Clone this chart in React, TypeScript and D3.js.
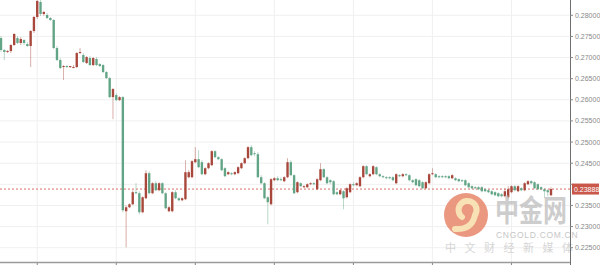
import React from 'react';
import * as d3 from 'd3';

const opens = [
  0.27462,0.27178,0.27131,0.27154,0.27297,0.27462,0.27344,0.27415,0.27320,0.27273,
  0.27628,0.27960,0.28316,0.28031,0.28008,0.27936,0.27889,0.27225,0.26941,0.26775,
  0.26799,0.26775,0.26775,0.26775,0.27107,0.27060,0.26870,0.26988,0.26822,0.26965,
  0.26846,0.26822,0.26657,0.26514,0.26064,0.26112,0.25993,0.26064,0.23363,0.23457,
  0.23528,0.23813,0.23789,0.23339,0.23670,0.24263,0.23789,0.24026,0.23860,0.24026,
  0.23789,0.23363,0.23363,0.23813,0.23670,0.23623,0.23647,0.24168,0.24168,0.24524,
  0.24595,0.24524,0.24239,0.24381,0.24453,0.24784,0.24642,0.24595,0.24381,0.24239,
  0.24263,0.24239,0.24263,0.24381,0.24500,0.24618,0.24879,0.24737,0.24713,0.24168,
  0.24026,0.23694,0.23528,0.24097,0.24144,0.24121,0.24073,0.24168,0.24524,0.24216,
  0.23813,0.24026,0.23931,0.23931,0.24002,0.24026,0.23884,0.24097,0.24358,0.24168,
  0.24097,0.24073,0.23813,0.23765,0.23836,0.23694,0.23813,0.24002,0.23979,0.23955,
  0.24168,0.24429,0.24192,0.24239,0.24405,0.24239,0.24192,0.24168,0.24168,0.24168,
  0.24026,0.24216,0.24192,0.24239,0.24216,0.24097,0.24121,0.24097,0.24050,0.23907,
  0.24026,0.24239,0.24239,0.24192,0.24192,0.24192,0.24192,0.24144,0.24144,0.24121,
  0.24097,0.24097,0.24026,0.23955,0.23931,0.23931,0.23931,0.23884,0.23860,0.23836,
  0.23813,0.23789,0.23765,0.23718,0.23694,0.23813,0.23955,0.23836,0.23907,0.23860,
  0.24002,0.24073,0.24050,0.24002,0.23931,0.23884,0.23860,0.23742,
];

const highs = [
  0.27510,0.27202,0.27178,0.27320,0.27581,0.27510,0.27486,0.27439,0.27368,0.27652,
  0.27984,0.28434,0.28363,0.28102,0.28055,0.27960,0.27913,0.27273,0.26988,0.26822,
  0.26822,0.26799,0.26822,0.27131,0.27225,0.27107,0.27036,0.27036,0.27012,0.27012,
  0.26870,0.26846,0.26680,0.26538,0.26277,0.26159,0.26088,0.26088,0.23505,0.23552,
  0.23860,0.24026,0.23836,0.23718,0.24334,0.24310,0.24050,0.24073,0.24050,0.24050,
  0.23813,0.23481,0.23836,0.23860,0.23694,0.23694,0.24571,0.24334,0.24571,0.24879,
  0.24808,0.24571,0.24405,0.24524,0.24808,0.24808,0.24666,0.24618,0.24405,0.24310,
  0.24287,0.24310,0.24429,0.24524,0.24642,0.24903,0.24927,0.24784,0.24761,0.24216,
  0.24050,0.23718,0.24144,0.24168,0.24192,0.24168,0.24192,0.24618,0.24571,0.24239,
  0.24073,0.24050,0.23979,0.24026,0.24050,0.24050,0.24144,0.24500,0.24381,0.24192,
  0.24121,0.24097,0.23836,0.23884,0.23860,0.23931,0.24026,0.24050,0.24050,0.24192,
  0.24453,0.24453,0.24263,0.24453,0.24429,0.24263,0.24216,0.24192,0.24192,0.24192,
  0.24263,0.24239,0.24263,0.24263,0.24239,0.24121,0.24144,0.24121,0.24073,0.24073,
  0.24263,0.24381,0.24263,0.24216,0.24216,0.24216,0.24216,0.24239,0.24168,0.24144,
  0.24121,0.24121,0.24050,0.23979,0.23955,0.23955,0.23955,0.23907,0.23884,0.23860,
  0.23836,0.23813,0.23789,0.23907,0.23955,0.23979,0.23979,0.23979,0.23931,0.24050,
  0.24097,0.24097,0.24073,0.24026,0.23955,0.23907,0.23884,0.23931,
];

const lows = [
  0.27131,0.26941,0.27107,0.27107,0.27273,0.27320,0.27297,0.27297,0.27249,0.26775,
  0.27581,0.27913,0.27984,0.27984,0.27913,0.27865,0.27202,0.26917,0.26728,0.26467,
  0.26751,0.26751,0.26751,0.26751,0.27083,0.26870,0.26846,0.26799,0.26799,0.26799,
  0.26775,0.26633,0.26491,0.26040,0.25543,0.25969,0.25969,0.23339,0.22509,0.23434,
  0.23505,0.23765,0.23291,0.23315,0.23647,0.23765,0.23765,0.23836,0.23836,0.23765,
  0.23410,0.23339,0.23339,0.23647,0.23599,0.23599,0.23623,0.24144,0.24144,0.24500,
  0.24381,0.24216,0.24216,0.24358,0.24429,0.24618,0.24571,0.24310,0.24168,0.24216,
  0.24216,0.24216,0.24239,0.24358,0.24476,0.24595,0.24666,0.24666,0.24144,0.24002,
  0.23647,0.23054,0.23505,0.24073,0.24073,0.24073,0.24050,0.24144,0.24192,0.23765,
  0.23789,0.23931,0.23907,0.23907,0.23979,0.23979,0.23860,0.24073,0.24144,0.24002,
  0.24002,0.23742,0.23742,0.23742,0.23410,0.23670,0.23789,0.23955,0.23955,0.23931,
  0.24144,0.24216,0.24168,0.24216,0.24216,0.24168,0.24144,0.24121,0.24121,0.24073,
  0.24002,0.24168,0.24168,0.24192,0.24073,0.24026,0.23955,0.23931,0.23884,0.23884,
  0.24002,0.24216,0.24144,0.24144,0.24144,0.24144,0.24121,0.24121,0.24073,0.24050,
  0.24050,0.23955,0.23907,0.23884,0.23884,0.23860,0.23813,0.23813,0.23789,0.23742,
  0.23718,0.23694,0.23694,0.23694,0.23647,0.23789,0.23836,0.23813,0.23836,0.23836,
  0.23979,0.24002,0.23884,0.23860,0.23860,0.23670,0.23718,0.23718,
];

const closes = [
  0.27178,0.27131,0.27154,0.27297,0.27557,0.27344,0.27439,0.27344,0.27273,0.27628,
  0.27960,0.28339,0.28031,0.28079,0.27936,0.27889,0.27225,0.26941,0.26751,0.26799,
  0.26775,0.26799,0.26775,0.27107,0.27131,0.26894,0.27012,0.26822,0.26988,0.26822,
  0.26799,0.26657,0.26514,0.26064,0.26254,0.25993,0.26064,0.23386,0.23457,0.23528,
  0.23813,0.23789,0.23339,0.23694,0.24263,0.23789,0.24026,0.23860,0.24026,0.23789,
  0.23434,0.23457,0.23813,0.23670,0.23623,0.23670,0.24287,0.24287,0.24547,0.24595,
  0.24405,0.24239,0.24381,0.24500,0.24784,0.24642,0.24595,0.24334,0.24192,0.24287,
  0.24239,0.24287,0.24405,0.24500,0.24618,0.24879,0.24690,0.24713,0.24168,0.24026,
  0.23670,0.23576,0.24121,0.24144,0.24097,0.24097,0.24168,0.24524,0.24216,0.23789,
  0.24050,0.23955,0.23955,0.24002,0.24026,0.24002,0.24121,0.24358,0.24168,0.24026,
  0.24050,0.23765,0.23765,0.23860,0.23670,0.23907,0.24002,0.23979,0.24026,0.24168,
  0.24429,0.24239,0.24239,0.24429,0.24239,0.24192,0.24168,0.24144,0.24144,0.24097,
  0.24239,0.24192,0.24239,0.24216,0.24097,0.24050,0.23979,0.23955,0.23907,0.24050,
  0.24239,0.24263,0.24168,0.24168,0.24168,0.24168,0.24144,0.24216,0.24097,0.24073,
  0.24073,0.23979,0.23931,0.23907,0.23907,0.23884,0.23836,0.23836,0.23813,0.23765,
  0.23742,0.23718,0.23718,0.23836,0.23884,0.23955,0.23860,0.23955,0.23860,0.24026,
  0.24073,0.24026,0.23907,0.23884,0.23884,0.23836,0.23813,0.23888,
];

const yTickValues = [0.28, 0.275, 0.27, 0.265, 0.26, 0.255, 0.25, 0.245, 0.24, 0.235, 0.23, 0.225];
const startTime = new Date(2018, 0, 10, 13, 0, 0);
const watermarkChars = ['中', '文', '财', '经', '新', '媒', '体'];

const UP = '#a8473b';
const DOWN = '#62a586';

export default function App() {
  const W = 600;
  const H = 265;
  const plotRight = 570;
  const n = opens.length;
  const times = opens.map((_, i) => d3.timeHour.offset(startTime, i));
  const x = d3.scaleTime().domain([times[0], times[n - 1]]).range([1, 551]);
  const y = d3.scaleLinear().domain([0.225, 0.28]).range([247.7, 15.3]);
  const dayLines = d3.timeDay.range(d3.timeDay.ceil(times[0]), times[n - 1]);
  const step = x(times[1]) - x(times[0]);
  const bw = step * 0.72;
  const fmt = d3.format('.5f');
  const lastPrice = closes[n - 1];
  const py = y(lastPrice);
  // tick labels hidden under the last-price label (as the reference does)
  const visibleTicks = yTickValues.filter((v) => Math.abs(y(v) - py) > 9);

  return (
    <svg width={W} height={H} style={{ position: 'absolute', left: 0, top: 0, background: '#fff' }}
      fontFamily="'Liberation Sans', Arial, sans-serif">
      <rect x={0} y={0} width={W} height={H} fill="#ffffff" />
      {/* grid */}
      {yTickValues.map((v) => (
        <line key={'hg' + v} x1={0} x2={plotRight} y1={y(v)} y2={y(v)} stroke="#f0f0f0" strokeWidth={1} />
      ))}
      {dayLines.map((d) => (
        <line key={'vg' + d.getTime()} x1={x(d)} x2={x(d)} y1={0} y2={262} stroke="#f0f0f0" strokeWidth={1} />
      ))}
      {/* price line */}
      <line x1={0} x2={plotRight} y1={py} y2={py} stroke="#d0584c" strokeWidth={1} strokeDasharray="2,2" opacity={0.85} />
      {/* candles */}
      {opens.map((o, i) => {
        const c = closes[i];
        const up = c >= o;
        const col = up ? UP : DOWN;
        const cx = x(times[i]);
        const top = y(Math.max(o, c));
        const h = Math.max(1, Math.abs(y(o) - y(c)));
        return (
          <g key={i}>
            <line x1={cx} x2={cx} y1={y(highs[i])} y2={y(lows[i])} stroke={col} strokeWidth={0.8} opacity={0.55} />
            <rect x={cx - bw / 2} y={top} width={bw} height={h} fill={col} />
          </g>
        );
      })}
      {/* watermark */}
      <g opacity={0.85}>
        <circle cx={466} cy={215} r={22} fill="#e8876c" />
        <path d="M 455 229 Q 472 230 475 215 A 9 9 0 1 0 462 217" fill="none" stroke="#f7dca8" strokeWidth={6} strokeLinecap="round" />
        <circle cx={466} cy={210} r={3} fill="#e8876c" />
      </g>
      <g transform="translate(495,221) scale(1,1.25)">
        <text x={0} y={0} fontSize={24} fontWeight="bold" fill="#bdbdbd" opacity={0.75}
          fontFamily="'Noto Sans CJK SC', sans-serif">中金网</text>
      </g>
      <text x={496} y={238} fontSize={8.5} fill="#bdbdbd" opacity={0.85} letterSpacing={0.7}>CNGOLD.COM.CN</text>
      {watermarkChars.map((ch, i) => (
        <text key={ch} x={445 + i * 19.5} y={252} fontSize={11} fill="#cfcfcf" opacity={0.85}
          fontFamily="'Noto Sans CJK SC', sans-serif">{ch}</text>
      ))}
      {/* bottom axis */}
      <line x1={0} x2={plotRight} y1={262.5} y2={262.5} stroke="#9a9a9a" strokeWidth={1.5} />
      {dayLines.map((d) => (
        <line key={'bt' + d.getTime()} x1={x(d)} x2={x(d)} y1={263} y2={265} stroke="#888" strokeWidth={1} />
      ))}
      {/* right axis */}
      <line x1={plotRight + 0.5} x2={plotRight + 0.5} y1={0} y2={H} stroke="#6f6f6f" strokeWidth={1} />
      {yTickValues.map((v) => (
        <line key={'ytl' + v} x1={plotRight} x2={plotRight + 3} y1={y(v)} y2={y(v)} stroke="#888" strokeWidth={1} />
      ))}
      {visibleTicks.map((v) => (
        <text key={'yt' + v} x={575} y={y(v)} dy="0.35em" fontSize={7} fill="#888">{fmt(v)}</text>
      ))}
      {/* last price label */}
      <rect x={572} y={py - 5.5} width={27} height={11} fill="#c9574a" />
      <text x={574} y={py} dy="0.35em" fontSize={7} fill="#ffffff">{fmt(lastPrice)}</text>
    </svg>
  );
}
